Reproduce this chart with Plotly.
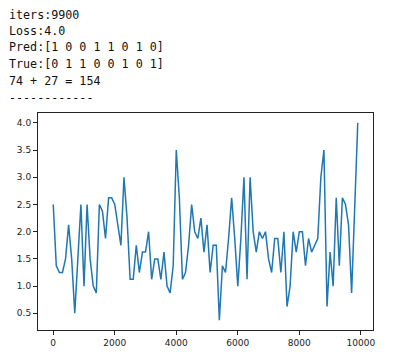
import plotly.graph_objects as go

iters = [i * 100 for i in range(100)]
loss = [2.5, 1.375, 1.25, 1.25, 1.5, 2.125, 1.5, 0.5, 1.5, 2.5,
        1.0, 2.5, 1.5, 1.0, 0.875, 2.5, 2.375, 1.875, 2.625, 2.625,
        2.5, 2.125, 1.75, 3.0, 2.25, 1.125, 1.125, 1.75, 1.25, 1.625,
        1.625, 2.0, 1.125, 1.5, 1.5, 1.125, 1.625, 1.0, 0.875, 1.375,
        3.5, 2.625, 1.125, 1.25, 1.75, 2.5, 2.0, 1.875, 2.25, 1.625,
        2.125, 1.25, 1.75, 1.75, 0.375, 1.375, 1.25, 1.875, 2.625, 1.875,
        1.0, 1.875, 3.0, 1.125, 3.0, 2.0, 1.625, 2.0, 1.875, 2.0,
        1.5, 1.25, 1.875, 1.875, 1.25, 2.0, 0.625, 1.0, 2.0, 1.625,
        2.0, 2.0, 1.375, 1.875, 1.625, 1.75, 1.875, 3.0, 3.5, 0.625,
        1.625, 1.0, 2.625, 1.375, 2.625, 2.5, 2.125, 0.875, 2.375, 4.0]

header_lines = ["iters:9900", "Loss:4.0", "Pred:[1 0 0 1 1 0 1 0]",
                "True:[0 1 1 0 0 1 0 1]", "74 + 27 = 154", "------------"]

x_ticks = [0, 2000, 4000, 6000, 8000, 10000]
y_ticks = [0.5, 1.0, 1.5, 2.0, 2.5, 3.0, 3.5, 4.0]

# page body has an 8px margin; figure coordinates are page coordinates minus 8
OFF = 8
W, H = 395 - OFF, 363 - OFF
L, R, T, B = 38 - OFF, 373 - OFF, 113 - OFF, 330 - OFF

fig = go.Figure()
fig.add_trace(go.Scatter(x=iters, y=loss, mode="lines",
                         line=dict(color="#1f77b4", width=1.5),
                         hoverinfo="skip"))

xmin, xmax = min(iters), max(iters)
ymin, ymax = min(loss), max(loss)
xm = 0.05 * (xmax - xmin)
ym = 0.05 * (ymax - ymin)

axis_common = dict(showline=True, linecolor="#222", linewidth=1, mirror=True,
                   ticks="outside", ticklen=4, tickcolor="#222", tickwidth=1,
                   showgrid=False, zeroline=False, automargin=False,
                   tickfont=dict(family="DejaVu Sans", size=9, color="#222"))

fig.update_xaxes(range=[xmin - xm, xmax + xm], tickvals=x_ticks,
                 ticktext=[str(v) for v in x_ticks], **axis_common)
fig.update_yaxes(range=[ymin - ym, ymax + ym], tickvals=y_ticks,
                 ticktext=[f"{v:.1f}" for v in y_ticks], **axis_common)

line_centers = [15.0, 31, 47.5, 64, 81, 98]
for txt, py in zip(header_lines, line_centers):
    fig.add_annotation(text=txt, xref="paper", yref="paper",
                       x=(0 - L) / (R - L), y=(B - (py - OFF)) / (B - T),
                       xanchor="left", yanchor="middle", showarrow=False,
                       borderpad=0,
                       font=dict(family="DejaVu Sans Mono", size=11.7, color="#111"))

fig.update_layout(width=W, height=H, showlegend=False,
                  margin=dict(l=L, r=W - R, t=T, b=H - B, autoexpand=False),
                  paper_bgcolor="white", plot_bgcolor="white")

fig.write_html("out.html")
